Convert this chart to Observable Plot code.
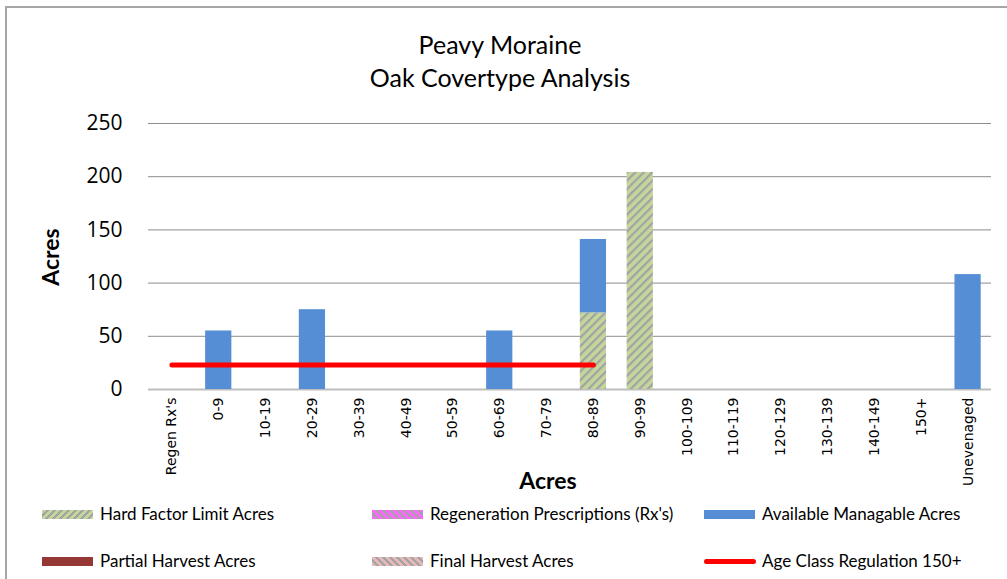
<!DOCTYPE html>
<html>
<head>
<meta charset="utf-8">
<script src="https://cdn.jsdelivr.net/npm/d3@7"></script>
<script src="https://cdn.jsdelivr.net/npm/@observablehq/plot@0.6"></script>
<style>
  html, body { margin: 0; padding: 0; background: #fff; }
  #chart { position: relative; width: 1007px; height: 579px; overflow: hidden; background: #fff; }
  #frame { position: absolute; left: 5px; top: 6px; right: -10px; bottom: -10px; border-top: 2px solid #a6a6a6; border-left: 2px solid #a6a6a6; }
  .title { position: absolute; left: 0; width: 1000px; text-align: center; font-family: Lato, "Open Sans", sans-serif; font-size: 25px; color: #000; }
  .axlabel { position: absolute; font-family: Lato, "Open Sans", sans-serif; font-size: 23px; font-weight: bold; color: #000; }
  #plot { position: absolute; left: 0; top: 0; }
  .leg { position: absolute; font-family: Lato, "Open Sans", sans-serif; font-size: 17px; color: #000; white-space: nowrap; }
  .sw { position: absolute; }
</style>
</head>
<body>
<div id="chart">
  <div id="frame"></div>
  <div class="title" style="top:29px">Peavy Moraine</div>
  <div class="title" style="top:62px">Oak Covertype Analysis</div>
  <div id="plot"></div>
  <div class="axlabel" style="left:548px; top:480px; transform:translate(-50%,-50%)">Acres</div>
  <div class="axlabel" style="left:50px; top:257px; transform:translate(-50%,-50%) rotate(-90deg)">Acres</div>
  <div id="legend"></div>
</div>
<script>
const categories = ["Regen Rx's","0-9","10-19","20-29","30-39","40-49","50-59","60-69","70-79","80-89","90-99","100-109","110-119","120-129","130-139","140-149","150+","Unevenaged"];
const hardFactor   = [0,0,0,0,0,0,0,0,0,72,204,0,0,0,0,0,0,0];
const regeneration = [0,0,0,0,0,0,0,0,0,0,0,0,0,0,0,0,0,0];
const available    = [0,55,0,75,0,0,0,55,0,69,0,0,0,0,0,0,0,108];
const partial      = [0,0,0,0,0,0,0,0,0,0,0,0,0,0,0,0,0,0];
const finalHarvest = [0,0,0,0,0,0,0,0,0,0,0,0,0,0,0,0,0,0];
const ageClassCats = ["Regen Rx's","0-9","10-19","20-29","30-39","40-49","50-59","60-69","70-79","80-89"];
const ageClassValue = 23;
const yTicks = [0,50,100,150,200,250];

const seriesNames = ["Hard Factor Limit Acres","Regeneration Prescriptions (Rx's)","Available Managable Acres","Partial Harvest Acres","Final Harvest Acres"];
const seriesValues = [hardFactor, regeneration, available, partial, finalHarvest];
const seriesFills = ["url(#pHard)","url(#pRegen)","#558ed5","#953735","url(#pFinal)"];

const rows = [];
seriesNames.forEach((s, si) => {
  categories.forEach((c, ci) => {
    rows.push({category: c, series: s, value: seriesValues[si][ci]});
  });
});
const lineRows = ageClassCats.map(c => ({category: c, value: ageClassValue}));

const plot = Plot.plot({
  width: 1007,
  height: 500,
  marginTop: 123,
  marginBottom: 111,
  marginLeft: 148,
  marginRight: 16,
  style: {fontFamily: "DejaVu Sans, sans-serif", background: "transparent"},
  x: {domain: categories, paddingInner: 0.44, paddingOuter: 0.22, round: false, label: null},
  y: {domain: [0, 250], label: null},
  color: {domain: seriesNames, range: seriesFills},
  marks: [
    Plot.gridY(yTicks, {stroke: "#8c8c8c", strokeOpacity: 1, strokeWidth: 1}),
    Plot.ruleY([0], {stroke: "#bdbdbd", strokeWidth: 2}),
    Plot.barY(rows, Plot.stackY({x: "category", y: "value", fill: "series", order: seriesNames})),
    Plot.lineY(lineRows, {x: "category", y: "value", stroke: "#ff0000", strokeWidth: 5, strokeLinecap: "round"}),
    Plot.axisY(yTicks, {tickSize: 0, tickPadding: 26, fontSize: 21, fontFamily: "Open Sans, sans-serif", label: null, fill: "#000"}),
    Plot.axisX({tickSize: 0, tickRotate: -90, tickPadding: 8, fontSize: 14, label: null, fill: "#000", style: {letterSpacing: "0.8px"}})
  ]
});

// pattern definitions
const defs = d3.select(plot).insert("defs", ":first-child");
function hatch(id, bg, fg, angle) {
  const p = defs.append("pattern").attr("id", id).attr("patternUnits", "userSpaceOnUse")
    .attr("width", 6).attr("height", 6).attr("patternTransform", `rotate(${angle})`);
  p.append("rect").attr("width", 6).attr("height", 6).attr("fill", bg);
  p.append("rect").attr("x", 0).attr("width", 2.2).attr("height", 6).attr("fill", fg);
}
hatch("pHard", "#c3d69b", "#a3a3a3", 45);
hatch("pRegen", "#ff66ff", "#a3a3a3", -45);
hatch("pFinal", "#e6b9b8", "#a3a3a3", -45);

document.getElementById("plot").appendChild(plot);

// legend
const legendItems = [
  {name: seriesNames[0], kind: "hatch", bg: "#c3d69b", dir: "135deg", x: 42, y: 514},
  {name: seriesNames[1], kind: "hatch", bg: "#ff66ff", dir: "45deg", x: 372, y: 514},
  {name: seriesNames[2], kind: "solid", bg: "#558ed5", x: 704, y: 514},
  {name: seriesNames[3], kind: "solid", bg: "#953735", x: 42, y: 561},
  {name: seriesNames[4], kind: "hatch", bg: "#e6b9b8", dir: "45deg", x: 372, y: 561},
  {name: "Age Class Regulation 150+", kind: "line", bg: "#ff0000", x: 704, y: 561}
];
const leg = d3.select("#legend");
legendItems.forEach(it => {
  const sw = leg.append("div").attr("class", "sw");
  if (it.kind === "line") {
    sw.style("left", it.x + "px").style("top", (it.y - 2.5) + "px").style("width", "52px").style("height", "5px")
      .style("border-radius", "3px").style("background", it.bg);
  } else {
    sw.style("left", it.x + "px").style("top", (it.y - 4.5) + "px").style("width", "51px").style("height", "9px");
    if (it.kind === "solid") sw.style("background", it.bg);
    else sw.style("background", `repeating-linear-gradient(${it.dir}, ${it.bg} 0px, ${it.bg} 3px, #a3a3a3 3px, #a3a3a3 5px)`);
  }
  leg.append("div").attr("class", "leg").style("left", (it.x + 58) + "px").style("top", (it.y - 11) + "px").text(it.name);
});
</script>
</body>
</html>
